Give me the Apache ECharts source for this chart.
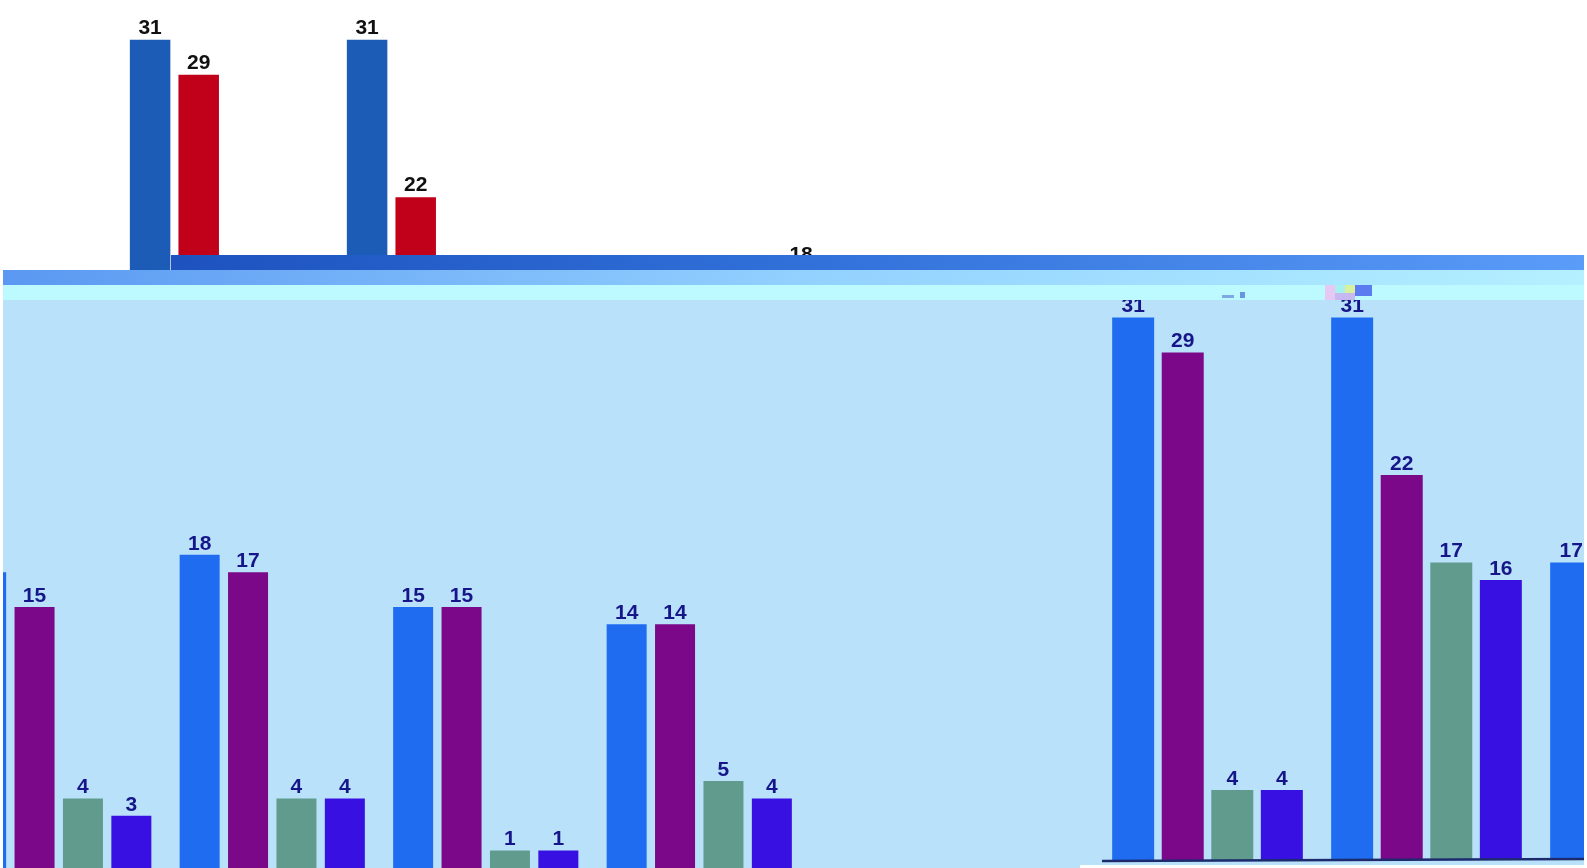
<!DOCTYPE html>
<html><head><meta charset="utf-8">
<script src="https://cdn.jsdelivr.net/npm/echarts/dist/echarts.min.js"></script>
<style>html,body{margin:0;padding:0;background:#fff}#c{width:1587px;height:868px}</style>
</head><body><div id="c"></div><script>
// Data (same underlying chart shown in three overlapping views)
const categories = ['1', '2', '3', '4', '5', '6'];
const seriesNames = ['A', 'B', 'C', 'D'];
const seriesA = [31, 31, 17, 18, 15, 14];
const seriesB = [29, 22, 15, 17, 15, 14];
const seriesC = [4, 17, 4, 4, 1, 5];
const seriesD = [4, 16, 3, 4, 1, 4];
const allSeries = [seriesA, seriesB, seriesC, seriesD];

const topColors = ['#1c5cb6', '#c10019', '#609a8c', '#3810e2'];
const bottomColors = ['#1f6cf0', '#7a0888', '#619b8d', '#3810e2'];

const panels = [
  { grid: { left: 114.5, top: 0, width: 1302, height: 582.3 }, max: 33.27, barWidth: 40.5, barGap: '20%',
    colors: topColors, labelColor: '#111111', fontSize: 21, dist: 1.5, z: 1 },
  { grid: { left: -475, top: 300, width: 1281, height: 568 }, max: 32.64, barWidth: 40, barGap: '21%',
    colors: bottomColors, labelColor: '#16168a', fontSize: 21, dist: 0.5, z: 3 },
  { grid: { left: 1098, top: 300, width: 1314, height: 560 }, max: 32.0, barWidth: 42, barGap: '18%',
    colors: bottomColors, labelColor: '#16168a', fontSize: 21, dist: 0.5, z: 3 }
];

const grids = [], xAxes = [], yAxes = [], series = [];
panels.forEach((p, i) => {
  grids.push(Object.assign({ containLabel: false, outerBoundsMode: 'none' }, p.grid));
  xAxes.push({
    type: 'category', data: categories, gridIndex: i,
    axisLine: { show: false }, axisTick: { show: false }, axisLabel: { show: false }, splitLine: { show: false }
  });
  yAxes.push({
    type: 'value', gridIndex: i, min: 0, max: p.max, show: false, splitLine: { show: false }
  });
  allSeries.forEach((vals, k) => {
    series.push({
      type: 'bar', name: seriesNames[k], data: vals, xAxisIndex: i, yAxisIndex: i,
      barWidth: p.barWidth, barGap: p.barGap, z: p.z, clip: true,
      itemStyle: { color: p.colors[k] },
      label: {
        show: true, position: 'top', distance: p.dist, color: p.labelColor,
        fontFamily: 'Liberation Sans, Arial, sans-serif', fontWeight: 'bold', fontSize: p.fontSize
      },
      emphasis: { disabled: true }, animation: false
    });
  });
});

const graphic = [
  { type: 'rect', z: 2, shape: { x: 3, y: 285, width: 1581, height: 583 }, style: { fill: '#b9e2fa' } },
  { type: 'rect', z: 4, shape: { x: 1080, y: 865, width: 507, height: 3 }, style: { fill: '#ffffff' } },
  { type: 'line', z: 4, shape: { x1: 1102, y1: 861, x2: 1584, y2: 859 }, style: { stroke: '#1c2a6e', lineWidth: 2.5 } },
  { type: 'rect', z: 4, shape: { x: 171, y: 255, width: 1413, height: 15 },
    style: { fill: new echarts.graphic.LinearGradient(0, 0, 1, 0, [
      { offset: 0, color: '#1d52bf' }, { offset: 0.5, color: '#3474dc' }, { offset: 1, color: '#5a9cf8' }]) } },
  { type: 'rect', z: 4, shape: { x: 3, y: 270, width: 1581, height: 15 },
    style: { fill: new echarts.graphic.LinearGradient(0, 0, 1, 0, [
      { offset: 0, color: '#5a98f2' }, { offset: 0.5, color: '#92d0ff' }, { offset: 1, color: '#b4f0ff' }]) } },
  { type: 'rect', z: 4, shape: { x: 3, y: 285, width: 1581, height: 15 }, style: { fill: '#bdfaff' } },
  // small noise patches in the pale band
  { type: 'rect', z: 5, shape: { x: 1325, y: 285, width: 10, height: 15 }, style: { fill: '#e6c8f4' } },
  { type: 'rect', z: 5, shape: { x: 1335, y: 285, width: 10, height: 8 }, style: { fill: '#a8f0ee' } },
  { type: 'rect', z: 5, shape: { x: 1345, y: 285, width: 10, height: 8 }, style: { fill: '#d8f0a0' } },
  { type: 'rect', z: 5, shape: { x: 1335, y: 293, width: 20, height: 7 }, style: { fill: '#c8b8f0' } },
  { type: 'rect', z: 5, shape: { x: 1355, y: 285, width: 17, height: 11 }, style: { fill: '#5a7cf0' } },
  { type: 'rect', z: 5, shape: { x: 1222, y: 295, width: 12, height: 3 }, style: { fill: '#7fa8e8' } },
  { type: 'rect', z: 5, shape: { x: 1240, y: 292, width: 5, height: 6 }, style: { fill: '#6a94e0' } },
  { type: 'rect', z: 5, shape: { x: 0, y: 270, width: 3, height: 598 }, style: { fill: '#ffffff' } },
  { type: 'rect', z: 5, shape: { x: 1584, y: 0, width: 3, height: 868 }, style: { fill: '#ffffff' } }
];

const chart = echarts.init(document.getElementById('c'), null, { renderer: 'canvas' });
chart.setOption({
  backgroundColor: '#ffffff',
  animation: false,
  grid: grids, xAxis: xAxes, yAxis: yAxes, series: series, graphic: graphic
});
</script></body></html>
